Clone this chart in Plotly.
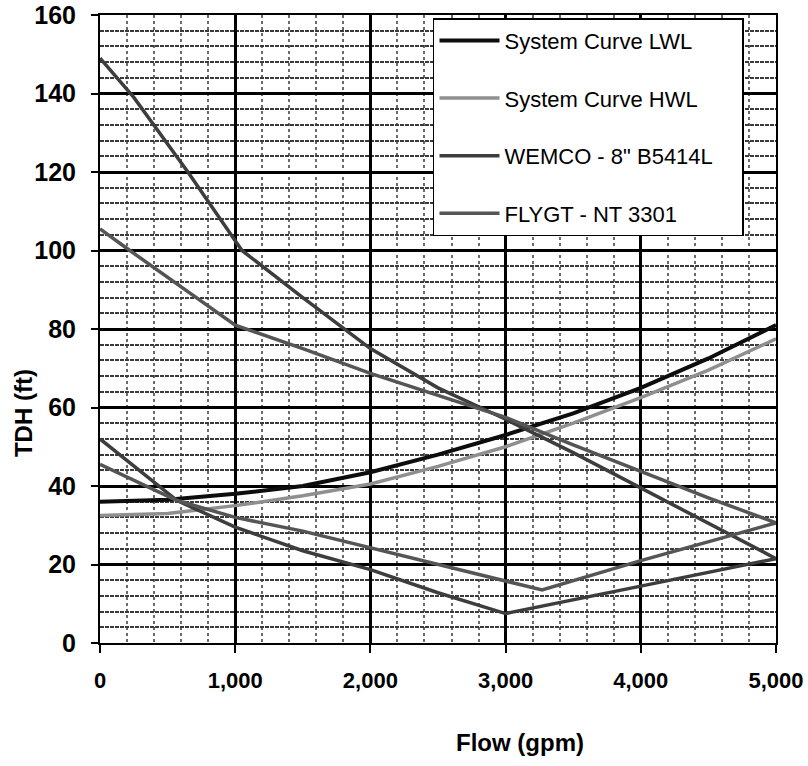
import plotly.graph_objects as go

# ---- data ----
sys_flow = [0, 500, 1000, 1500, 2000, 2500, 3000, 3500, 4000, 4500, 5000]
lwl_tdh = [36, 36.5, 38, 40, 43.5, 48, 53, 58.5, 65, 72.5, 81]
hwl_tdh = [32.5, 33, 35, 37.5, 40.5, 45, 50, 56, 62.5, 69.5, 77.5]

wemco_flow = [0, 250, 650, 1050, 1500, 2000, 2500, 3000, 3500, 4000, 4500, 5000,
              4000, 3000, 2500, 2000, 1500, 1000, 570, 0]
wemco_tdh = [149, 139, 120, 100, 88, 75, 65, 57, 48.5, 39.5, 30.5, 21.5,
             14.5, 7.5, 12.8, 18.7, 23.5, 29.5, 36.3, 52]

flygt_flow = [0, 200, 1000, 1500, 2000, 2500, 3000, 3500, 4000, 4500, 5000,
              4000, 3270, 2500, 2000, 1500, 1000, 570, 0]
flygt_tdh = [105.5, 100.5, 81, 75, 68.7, 63, 57.5, 50.5, 43.8, 37, 30.6,
             21, 13.5, 20, 24.2, 28.5, 32, 36.3, 45.5]

x_ticks = [0, 1000, 2000, 3000, 4000, 5000]
x_tick_labels = ["0", "1,000", "2,000", "3,000", "4,000", "5,000"]
y_ticks = [0, 20, 40, 60, 80, 100, 120, 140, 160]

PAD = "\u00a0" * 4
series = [
    ("System Curve LWL" + PAD, sys_flow, lwl_tdh, "#0d0d0d", 4),
    ("System Curve HWL" + PAD, sys_flow, hwl_tdh, "#8f8f8f", 3.5),
    ("WEMCO - 8\" B5414L" + PAD, wemco_flow, wemco_tdh, "#3d3d3d", 3.5),
    ("FLYGT - NT 3301" + PAD, flygt_flow, flygt_tdh, "#555555", 3.5),
]

FONT = "Liberation Sans, Arial, sans-serif"

fig = go.Figure()
for i, (name, xs, ys, col, w) in enumerate(series):
    fig.add_trace(go.Scatter(
        x=xs, y=ys, mode="lines", name=name,
        line=dict(color=col, width=w),
        legendgroup=f"g{i}",
    ))

fig.update_layout(
    width=808, height=766,
    margin=dict(l=100, r=32, t=15, b=123),
    paper_bgcolor="white", plot_bgcolor="white",
    showlegend=True,
    legend=dict(
        x=0.4926, y=0.995, xanchor="left", yanchor="top",
        bgcolor="white", bordercolor="black", borderwidth=1.5,
        font=dict(family=FONT, size=22, color="black"),
        tracegroupgap=26, itemwidth=60,
    ),
    xaxis=dict(
        range=[0, 5000], tickvals=x_ticks, ticktext=x_tick_labels,
        automargin=False, ticklabeloverflow="allow",
        showgrid=True, gridcolor="black", gridwidth=2.5,
        showline=True, linecolor="black", linewidth=2, mirror=True,
        ticks="outside", ticklen=8, tickwidth=2, tickcolor="black",
        tickfont=dict(family=FONT, size=22, color="black", weight="bold"),
        ticklabelstandoff=9,
        zeroline=False,
        minor=dict(dtick=200, tick0=0, showgrid=True, gridcolor="#6a6a6a",
                   griddash="dot", gridwidth=1.5),
    ),
    yaxis=dict(
        range=[0, 160], tickvals=y_ticks,
        automargin=False, ticklabeloverflow="allow",
        showgrid=True, gridcolor="black", gridwidth=3,
        showline=True, linecolor="black", linewidth=2, mirror=True,
        ticks="outside", ticklen=7, tickwidth=2, tickcolor="black",
        tickfont=dict(family=FONT, size=25, color="black", weight="bold"),
        ticklabelstandoff=10,
        zeroline=False,
        minor=dict(dtick=4, tick0=0, showgrid=True, gridcolor="#3a3a3a",
                   griddash="4px,1px", gridwidth=1.8),
    ),
    annotations=[
        dict(text="Flow (gpm)", xref="paper", yref="paper", x=0.621, y=-0.159,
             showarrow=False, xanchor="center", yanchor="middle",
             font=dict(family=FONT, size=24, color="black", weight="bold")),
        dict(text="TDH (ft)", xref="paper", yref="paper", x=-0.114, y=0.366,
             showarrow=False, xanchor="center", yanchor="middle", textangle=-90,
             font=dict(family=FONT, size=24, color="black", weight="bold")),
    ],
)

fig.write_html(
    "out.html",
    config={"displayModeBar": False},
    post_script="document.body.style.margin='0';document.body.style.overflow='hidden';",
)
